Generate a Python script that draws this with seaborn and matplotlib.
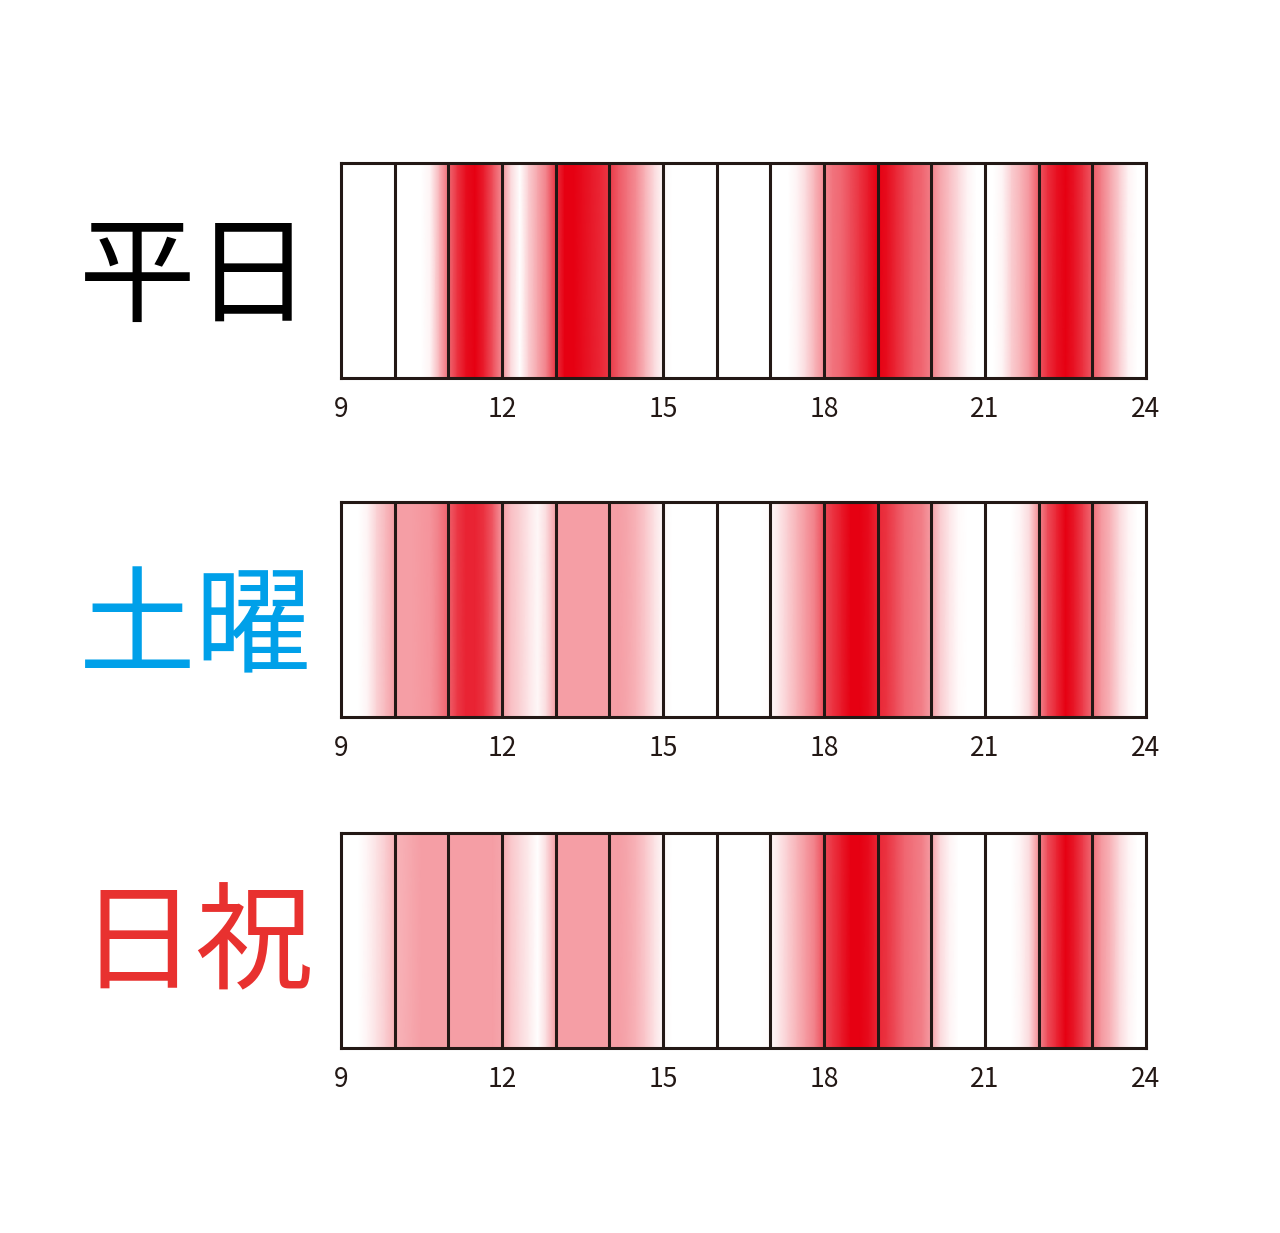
import numpy as np
import matplotlib
matplotlib.use("Agg")
import matplotlib.pyplot as plt
import seaborn as sns

# ---- data: intensity (0 = empty, 1 = busiest), sampled every 10 minutes from 9:00 to 24:00
row_labels = ["平日", "土曜", "日祝"]
row_colors = ["#000000", "#00a0e9", "#e8312f"]
tick_hours = [9, 12, 15, 18, 21, 24]
hour_lines = list(range(10, 24))
samples_per_hour = 6

weekday_levels = [
    0, 0, 0, 0, 0, 0,                    # 9
    0, 0, 0, 0, 0.05, 0.3,               # 10
    0.58, 0.8, 0.95, 1.0, 0.88, 0.68,    # 11
    0.45, 0.15, 0.0, 0.2, 0.35, 0.5,     # 12
    0.8, 1.0, 1.0, 0.95, 0.9, 0.85,      # 13
    0.78, 0.65, 0.55, 0.45, 0.3, 0.15,   # 14
    0.03, 0, 0, 0, 0, 0,                 # 15
    0, 0, 0, 0, 0, 0,                    # 16
    0, 0, 0, 0.05, 0.15, 0.3,            # 17
    0.45, 0.55, 0.6, 0.7, 0.8, 0.9,      # 18
    1.0, 0.95, 0.85, 0.75, 0.65, 0.6,    # 19
    0.5, 0.35, 0.25, 0.15, 0.05, 0,      # 20
    0, 0, 0.05, 0.2, 0.3, 0.42,          # 21
    0.65, 0.82, 0.93, 1.0, 0.92, 0.8,    # 22
    0.65, 0.5, 0.35, 0.2, 0.05, 0,       # 23
    0,                                   # 24
]
saturday_levels = [
    0, 0, 0, 0.05, 0.18, 0.28,           # 9
    0.38, 0.38, 0.38, 0.4, 0.42, 0.5,    # 10
    0.62, 0.78, 0.86, 0.86, 0.8, 0.65,   # 11
    0.4, 0.25, 0.18, 0.1, 0.03, 0.15,    # 12
    0.38, 0.38, 0.38, 0.38, 0.38, 0.38,  # 13
    0.38, 0.38, 0.35, 0.3, 0.22, 0.12,   # 14
    0.03, 0, 0, 0, 0, 0,                 # 15
    0, 0, 0, 0, 0, 0,                    # 16
    0.02, 0.1, 0.2, 0.3, 0.4, 0.5,       # 17
    0.7, 0.8, 0.9, 1.0, 1.0, 0.95,       # 18
    0.85, 0.8, 0.7, 0.6, 0.55, 0.5,      # 19
    0.38, 0.2, 0.1, 0.02, 0, 0,          # 20
    0, 0, 0, 0, 0.05, 0.15,              # 21
    0.45, 0.7, 0.85, 1.0, 0.9, 0.75,     # 22
    0.58, 0.4, 0.3, 0.15, 0.05, 0,       # 23
    0,                                   # 24
]
holiday_levels = [
    0, 0, 0, 0.05, 0.12, 0.2,            # 9
    0.3, 0.32, 0.35, 0.38, 0.38, 0.38,   # 10
    0.38, 0.38, 0.38, 0.38, 0.38, 0.38,  # 11
    0.35, 0.22, 0.15, 0.08, 0.0, 0.15,   # 12
    0.38, 0.38, 0.38, 0.38, 0.38, 0.38,  # 13
    0.38, 0.38, 0.35, 0.3, 0.22, 0.12,   # 14
    0.03, 0, 0, 0, 0, 0,                 # 15
    0, 0, 0, 0, 0, 0,                    # 16
    0.02, 0.1, 0.2, 0.3, 0.4, 0.5,       # 17
    0.7, 0.8, 0.9, 1.0, 1.0, 0.95,       # 18
    0.85, 0.8, 0.7, 0.6, 0.55, 0.5,      # 19
    0.38, 0.15, 0.05, 0, 0, 0,           # 20
    0, 0, 0, 0, 0.05, 0.15,              # 21
    0.45, 0.7, 0.85, 1.0, 0.9, 0.75,     # 22
    0.58, 0.4, 0.3, 0.15, 0.05, 0,       # 23
    0,                                   # 24
]
all_levels = [weekday_levels, saturday_levels, holiday_levels]

# ---- style
sns.set_theme(style="white")
plt.rcParams["font.family"] = ["Noto Sans CJK JP", "DejaVu Sans"]

line_color = "#231815"
cmap = sns.blend_palette(["#ffffff", "#e60012"], as_cmap=True)

fig = plt.figure(figsize=(12.8, 12.33), dpi=100)
W, H = 1280, 1233
ax_left, ax_right = 341, 1146
row_tops = [163, 502, 833]
row_height = 215
label_y = [280, 632, 948]
label_x = 196

n_hours = tick_hours[-1] - tick_hours[0]
for i, levels in enumerate(all_levels):
    top = row_tops[i]
    ax = fig.add_axes([ax_left / W, 1 - (top + row_height) / H,
                       (ax_right - ax_left) / W, row_height / H])
    data = np.vstack([levels, levels])
    sns.heatmap(data, ax=ax, cmap=cmap, vmin=0, vmax=1, cbar=False,
                shading="gouraud", rasterized=True)
    ax.set_xlim(0, n_hours * samples_per_hour)
    ax.set_ylim(0, 1)
    ax.vlines([(h - tick_hours[0]) * samples_per_hour for h in hour_lines],
              0, 1, colors=line_color, linewidth=2.2)
    for sp in ax.spines.values():
        sp.set_visible(True)
        sp.set_color(line_color)
        sp.set_linewidth(2.2)
    ax.set_xticks([(h - tick_hours[0]) * samples_per_hour for h in tick_hours])
    ax.set_xticklabels([str(h) for h in tick_hours], fontsize=19,
                       fontweight="normal", color="#231815")
    ax.set_yticks([])
    ax.tick_params(axis="x", length=0, pad=13, bottom=False)

    fig.text(label_x / W, 1 - label_y[i] / H, row_labels[i], color=row_colors[i],
             fontsize=84, ha="center", va="center")

fig.savefig("out.png", dpi=100, facecolor="white")
